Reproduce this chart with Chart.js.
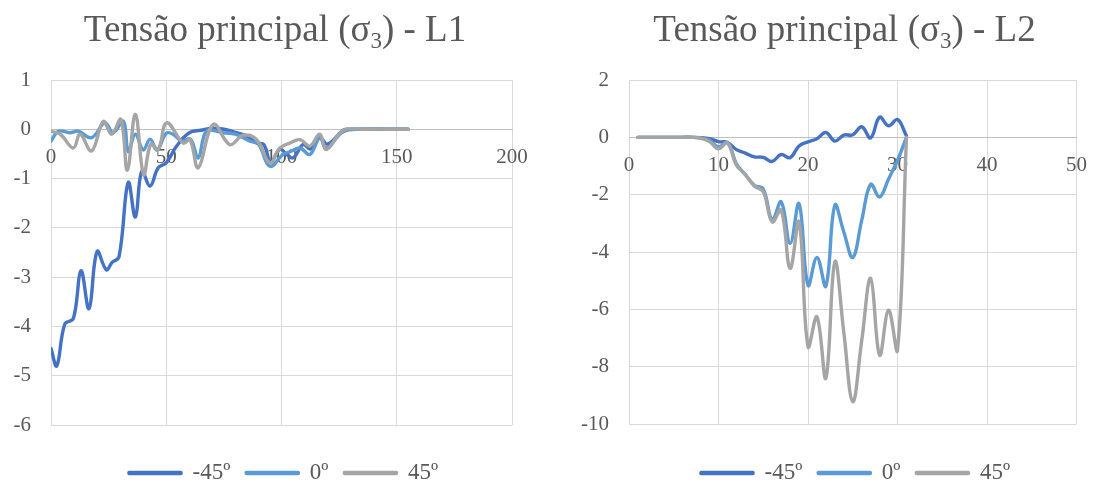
<!DOCTYPE html>
<html>
<head>
<meta charset="utf-8">
<script src="https://cdn.jsdelivr.net/npm/chart.js@4.4.1/dist/chart.umd.min.js"></script>
<style>
  html, body { margin: 0; padding: 0; background: #ffffff; overflow: hidden; }
  #wrap { position: relative; width: 1103px; height: 486px; }
  canvas { position: absolute; top: 0; }
  #chartL1 { left: 0; }
  #chartL2 { left: 551px; }
</style>
</head>
<body>
<div id="wrap">
  <canvas id="chartL1" width="551" height="486"></canvas>
  <canvas id="chartL2" width="552" height="486"></canvas>
</div>
<script>
// ---- series labels and colours ----
const seriesNames = ['-45º', '0º', '45º'];
const seriesColors = ['#4472C4', '#5B9BD5', '#A5A5A5'];

// ---- L1: principal stress σ3 along line L1 ----
const l1TitleMain = 'Tensão principal (σ';
const l1TitleSub = '3';
const l1TitleTail = ') - L1';

const l1XNeg45 = [0, 2.5, 6, 9.7, 13, 16.5, 20, 24, 26.5, 29.5, 33.5, 36.6, 39.4, 43, 46.5, 50, 54.5, 60, 65, 70, 75, 80.5, 85.5, 89.2, 92.3, 95.3, 99.3, 102, 105, 109.4, 112.5, 116.6, 120, 126.8, 130, 140, 155];
const l1YNeg45 = [-4.45, -4.8, -3.95, -3.84, -2.87, -3.64, -2.48, -2.85, -2.7, -2.59, -1.08, -1.78, -0.85, -1.15, -0.78, -0.68, -0.34, -0.07, -0.02, 0.02, 0, -0.07, -0.15, -0.28, -0.31, -0.66, -0.4, -0.5, -0.58, -0.31, -0.4, -0.17, -0.3, -0.02, 0, 0, 0];

const l1X0 = [0, 3.2, 8.2, 11.8, 17.6, 23.4, 27, 31.4, 33.5, 36.6, 40, 43, 46, 50, 53, 56.7, 60.5, 63.9, 67.5, 74.6, 80, 86.3, 90, 95, 100.7, 104, 108, 112.3, 116.6, 119.5, 126.8, 135, 155];
const l1Y0 = [-0.24, -0.04, -0.07, -0.04, -0.17, 0.13, -0.07, 0.16, -0.45, -0.1, -0.42, -0.2, -0.42, -0.08, -0.1, -0.24, -0.2, -0.58, -0.04, -0.07, -0.1, -0.24, -0.3, -0.75, -0.51, -0.45, -0.38, -0.51, -0.17, -0.38, -0.05, 0, 0];

const l1X45 = [0, 4, 9.7, 12.6, 17.6, 22.7, 26.3, 30.3, 33.1, 36.6, 40.2, 43.3, 46.5, 50.2, 57.4, 60.3, 63.9, 70.4, 77.6, 83.4, 89.2, 95, 99.3, 103.6, 108, 112.3, 116.6, 119.5, 126.8, 135, 155];
const l1Y45 = [-0.04, -0.1, -0.38, -0.1, -0.44, 0.16, -0.1, 0.2, -0.83, 0.3, -0.92, -0.3, -0.41, 0.13, -0.28, -0.21, -0.78, 0.1, -0.31, -0.12, -0.21, -0.68, -0.38, -0.28, -0.21, -0.34, -0.1, -0.41, -0.02, 0, 0];

// ---- L2: principal stress σ3 along line L2 ----
const l2TitleMain = 'Tensão principal (σ';
const l2TitleSub = '3';
const l2TitleTail = ') - L2';

const l2X = [1, 2, 3, 4, 5, 6, 7, 8, 9, 10, 11, 12, 13, 14, 15, 16, 17, 18, 19, 20, 21, 22, 23, 24, 25, 26, 27, 28, 29, 30, 31];
const l2YNeg45 = [0, 0, 0, 0, 0, 0, 0, -0.01, -0.05, -0.15, -0.18, -0.43, -0.55, -0.68, -0.7, -0.84, -0.6, -0.71, -0.3, -0.16, -0.05, 0.17, -0.13, 0.08, 0.09, 0.37, -0.02, 0.7, 0.4, 0.62, 0.05];
const l2Y0 = [0, 0, 0, 0, 0, 0, 0, -0.02, -0.1, -0.33, -0.18, -0.92, -1.3, -1.67, -1.8, -2.88, -2.25, -3.7, -2.31, -5.16, -4.19, -5.19, -2.37, -3.3, -4.19, -2.9, -1.64, -2.08, -1.45, -0.8, 0];
const l2Y45 = [0, 0, 0, 0, 0, 0, 0, -0.03, -0.15, -0.4, -0.2, -0.97, -1.3, -1.7, -1.9, -2.95, -2.54, -4.57, -2.95, -7.3, -6.26, -8.4, -4.34, -6.8, -9.22, -7.1, -4.92, -7.6, -6.03, -7.42, 0];

// ---- shared styling ----
const FONT_FAMILY = "'Liberation Serif', 'Times New Roman', serif";
const TEXT_COLOR = '#595959';
const GRID_COLOR = '#D9D9D9';
const AXIS_COLOR = '#BFBFBF';
const TICK_SIZE = 21;
const LEGEND_SIZE = 23;
const LEGEND_PAD = 16;
const CANVAS_H = 486;

// Title with a subscripted "3" after sigma.
const sigmaTitle = {
  id: 'sigmaTitle',
  afterDraw(chart, args, o) {
    const ctx = chart.ctx;
    const big = o.size + 'px ' + FONT_FAMILY;
    const small = Math.round(o.size * 0.62) + 'px ' + FONT_FAMILY;
    const parts = [
      { t: o.main, f: big, dy: 0 },
      { t: o.sub, f: small, dy: o.size * 0.2 },
      { t: o.tail, f: big, dy: 0 }
    ];
    ctx.save();
    ctx.fillStyle = TEXT_COLOR;
    ctx.textBaseline = 'alphabetic';
    ctx.textAlign = 'left';
    let total = 0;
    parts.forEach(p => { ctx.font = p.f; p.w = ctx.measureText(p.t).width; total += p.w; });
    let x = o.cx - total / 2;
    parts.forEach(p => { ctx.font = p.f; ctx.fillText(p.t, x, o.baseline + p.dy); x += p.w; });
    ctx.restore();
  }
};

// Places the legend row: first swatch at startX, row centred on centerY.
const legendRow = {
  id: 'legendRow',
  afterLayout(chart, args, o) {
    const lg = chart.legend;
    if (!lg) return;
    const lab = lg.options.labels;
    const itemH = Math.max(lab.font.size, lab.boxHeight);
    lg.top = o.centerY - itemH / 2 - lab.padding;
    lg.bottom = lg.top + lg.height;
    lg.left = o.startX - lab.padding;
  }
};

function buildChart(canvas, cfg) {
  const datasets = cfg.series.map((s, i) => ({
    label: seriesNames[i],
    data: s.x.map((x, k) => ({ x: x, y: s.y[k] })),
    borderColor: seriesColors[i],
    backgroundColor: seriesColors[i],
    borderWidth: 3.4,
    pointRadius: 0,
    pointHoverRadius: 0,
    tension: 0.4,
    borderCapStyle: 'round',
    borderJoinStyle: 'round',
    fill: false,
    order: 2 - i
  }));

  const tickFont = { family: FONT_FAMILY, size: TICK_SIZE };
  // legend block height = item height + padding + 10 (Chart.js horizontal legend)
  const legendH = LEGEND_SIZE + LEGEND_PAD + 10;
  const padBottom = Math.max(0, CANVAS_H - cfg.plotBottom - legendH);

  return new Chart(canvas, {
    type: 'line',
    data: { datasets: datasets },
    options: {
      responsive: false,
      animation: false,
      events: [],
      layout: { padding: { top: cfg.plotTop, right: cfg.padRight, left: 0, bottom: padBottom } },
      scales: {
        x: {
          type: 'linear',
          min: cfg.xMin, max: cfg.xMax,
          position: { y: 0 },
          ticks: { stepSize: cfg.xStep, color: TEXT_COLOR, font: tickFont, padding: 16, maxRotation: 0, autoSkip: false },
          grid: { color: GRID_COLOR, lineWidth: 1, drawTicks: false },
          border: { display: true, color: AXIS_COLOR, width: 1 },
          afterFit(scale) { scale.height = 0; }
        },
        y: {
          type: 'linear',
          min: cfg.yMin, max: cfg.yMax,
          ticks: { stepSize: cfg.yStep, color: TEXT_COLOR, font: tickFont, padding: 20 },
          grid: { color: GRID_COLOR, lineWidth: 1, drawTicks: false },
          border: { display: false },
          afterFit(scale) { scale.width = cfg.yAxisWidth; }
        }
      },
      plugins: {
        legend: {
          display: true,
          position: 'bottom',
          align: 'start',
          reverse: true,
          labels: {
            boxWidth: 52, boxHeight: 1, padding: LEGEND_PAD,
            color: TEXT_COLOR,
            font: { family: FONT_FAMILY, size: LEGEND_SIZE }
          }
        },
        tooltip: { enabled: false },
        sigmaTitle: { main: cfg.title[0], sub: cfg.title[1], tail: cfg.title[2], size: 37, cx: cfg.titleX, baseline: 41 },
        legendRow: { centerY: 473, startX: cfg.legendX }
      }
    },
    plugins: [sigmaTitle, legendRow]
  });
}

buildChart(document.getElementById('chartL1'), {
  title: [l1TitleMain, l1TitleSub, l1TitleTail], titleX: 275,
  series: [
    { x: l1XNeg45, y: l1YNeg45 },
    { x: l1X0, y: l1Y0 },
    { x: l1X45, y: l1Y45 }
  ],
  xMin: 0, xMax: 200, xStep: 50,
  yMin: -6, yMax: 1, yStep: 1,
  plotTop: 80, plotBottom: 425, yAxisWidth: 51, padRight: 39, legendX: 129
});

buildChart(document.getElementById('chartL2'), {
  title: [l2TitleMain, l2TitleSub, l2TitleTail], titleX: 293.5,
  series: [
    { x: l2X, y: l2YNeg45 },
    { x: l2X, y: l2Y0 },
    { x: l2X, y: l2Y45 }
  ],
  xMin: 0, xMax: 50, xStep: 10,
  yMin: -10, yMax: 2, yStep: 2,
  plotTop: 80, plotBottom: 424, yAxisWidth: 78, padRight: 17, legendX: 150
});
</script>
</body>
</html>
